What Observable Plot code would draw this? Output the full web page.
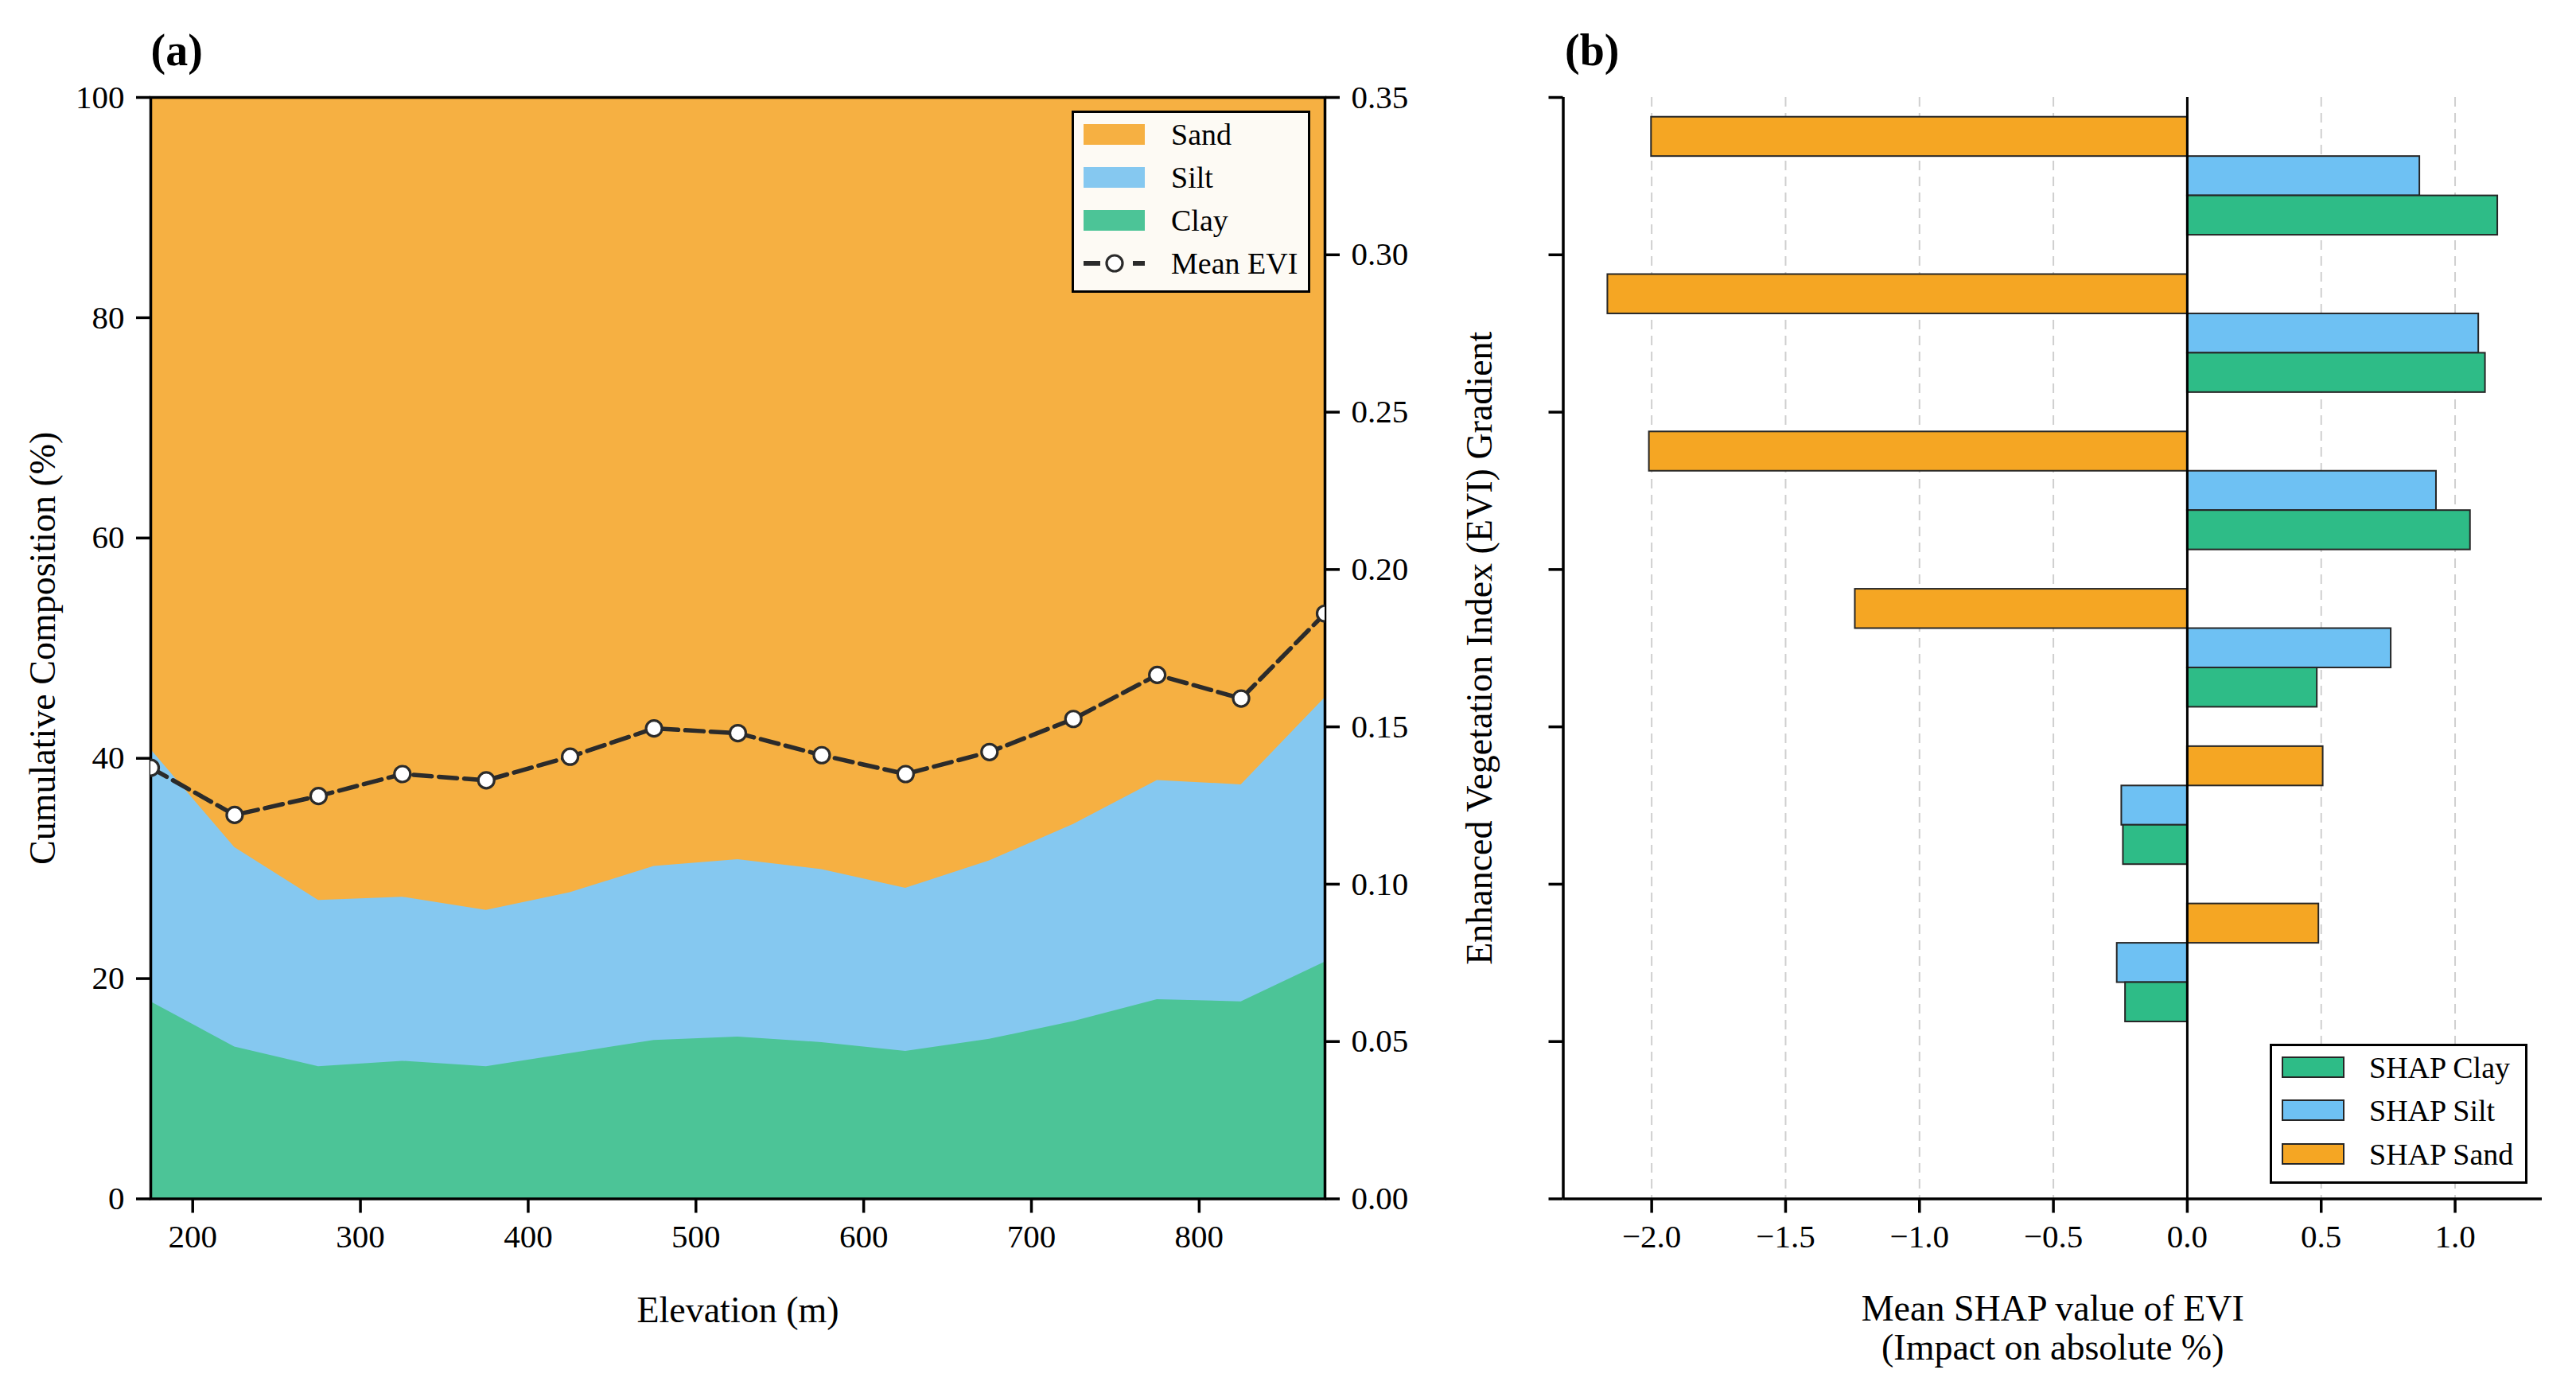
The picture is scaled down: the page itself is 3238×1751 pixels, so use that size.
<!DOCTYPE html>
<html><head><meta charset="utf-8">
<script src="https://cdn.jsdelivr.net/npm/d3@7"></script>
<script src="https://cdn.jsdelivr.net/npm/@observablehq/plot@0.6"></script>
<style>
html,body{margin:0;padding:0;background:#fff;}
#root{position:relative;width:3238px;height:1751px;font-family:"Liberation Serif","Times New Roman",serif;color:#000;overflow:hidden}
.pane{position:absolute;top:0}
.leg{position:absolute;box-sizing:border-box;border:3px solid #000}
.lt{position:absolute;font-size:38px;line-height:38px;white-space:nowrap;font-family:"Liberation Serif","Times New Roman",serif}
.lp{position:absolute;box-sizing:border-box}
</style></head><body><div id="root"></div>
<script>
// ---------- data: panel (a) ----------
const elevation = [175,225,275,325,375,425,475,525,575,625,675,725,775,825,875];
const clay = [17.9,13.8,12.0,12.5,12.0,13.2,14.4,14.7,14.2,13.4,14.5,16.1,18.1,17.9,21.5];
const silt = [22.9,18.1,15.1,14.9,14.2,14.6,15.8,16.1,15.7,14.8,16.2,17.9,19.9,19.7,24.0];
const sand = [59.2,68.1,72.9,72.6,73.8,72.2,69.8,69.2,70.1,71.8,69.3,66.0,62.0,62.4,54.5];
const meanEVI = [0.137,0.122,0.128,0.135,0.133,0.1405,0.1495,0.148,0.141,0.135,0.142,0.1525,0.1665,0.159,0.186];
const elevTicks = [200,300,400,500,600,700,800];
const compTicks = [0,20,40,60,80,100];
const eviTicks = [0,0.05,0.10,0.15,0.20,0.25,0.30,0.35];
// ---------- data: panel (b) ----------
const eviBins = [0.075,0.125,0.175,0.225,0.275,0.325];
const shapClay = [-0.231,-0.239,0.485,1.057,1.113,1.159];
const shapSilt = [-0.262,-0.245,0.761,0.930,1.088,0.868];
const shapSand = [0.491,0.507,-1.240,-2.009,-2.164,-2.001];
const shapTicks = [-2.0,-1.5,-1.0,-0.5,0.0,0.5,1.0];

const FONT = '"Liberation Serif","Times New Roman",serif';
const COL_A = {Sand:"#F6B042", Silt:"#85C8F0", Clay:"#4CC497"};
const COL_B = {Sand:"#F5A623", Silt:"#6EC1F3", Clay:"#2EBC87"};
const INK = "#000";

const root = document.getElementById("root");
function place(el, left, width){
  const d = document.createElement("div");
  d.className = "pane"; d.style.left = left+"px"; d.style.width = width+"px";
  d.appendChild(el); root.appendChild(d); return d;
}

// ---------- panel (a) ----------
const compRows = elevation.map((e,i)=>({elev:e,
  clayTop: clay[i], siltTop: clay[i]+silt[i], sandTop: clay[i]+silt[i]+sand[i]}));
const eviRows = elevation.map((e,i)=>({elev:e, evi: meanEVI[i]}));

const WA = 1790, ML = 189, MR = WA-1665, MT = 122, MB = 1751-1506.5;
const baseStyle = {fontFamily: FONT, fontSize: "41px", color: INK, background: "transparent", overflow: "visible"};

const plotA = Plot.plot({
  width: WA, height: 1751, marginLeft: ML, marginRight: MR, marginTop: MT, marginBottom: MB,
  style: baseStyle,
  x: {domain: [175, 875]}, y: {domain: [0, 100]},
  marks: [
    Plot.areaY(compRows, {x: "elev", y1: 0, y2: "sandTop", fill: COL_A.Sand}),
    Plot.areaY(compRows, {x: "elev", y1: 0, y2: "siltTop", fill: COL_A.Silt}),
    Plot.areaY(compRows, {x: "elev", y1: 0, y2: "clayTop", fill: COL_A.Clay}),
    Plot.frame({stroke: INK, strokeWidth: 3.5}),
    Plot.axisX({ticks: elevTicks, tickSize: 18, tickPadding: 14, strokeWidth: 3.5, label: null, fontSize: 41, tickFormat: d3.format("d")}),
    Plot.axisY({ticks: compTicks, tickSize: 18, tickPadding: 15, strokeWidth: 3.5, label: null, fontSize: 41, tickFormat: d3.format("d")}),
    Plot.text(["Elevation (m)"], {text: d=>d, frameAnchor: "bottom", lineAnchor: "middle", textAnchor: "middle", dy: 140, fontSize: 46}),
    Plot.text(["Cumulative Composition (%)"], {text: d=>d, frameAnchor: "left", lineAnchor: "middle", textAnchor: "middle", rotate: -90, dx: -135, fontSize: 46}),
    Plot.text(["(a)"], {text: d=>d, frameAnchor: "top-left", textAnchor: "start", lineAnchor: "middle", dy: -58, fontSize: 56, fontWeight: "bold"})
  ]
});
place(plotA, 0, WA);

const plotA2 = Plot.plot({
  width: WA, height: 1751, marginLeft: ML, marginRight: MR, marginTop: MT, marginBottom: MB,
  style: baseStyle,
  x: {domain: [175, 875], axis: null}, y: {domain: [0, 0.35]},
  marks: [
    Plot.line(eviRows, {x: "elev", y: "evi", stroke: "#2b2b2b", strokeWidth: 5.5, strokeDasharray: "23,9", clip: true}),
    Plot.dot(eviRows, {x: "elev", y: "evi", r: 10, fill: "#fff", stroke: "#2b2b2b", strokeWidth: 3.2, clip: true}),
    Plot.axisY({anchor: "right", ticks: eviTicks, tickFormat: d3.format(".2f"), tickSize: 18, tickPadding: 15, strokeWidth: 3.5, label: null, fontSize: 41})
  ]
});
place(plotA2, 0, WA);

// ---------- panel (b) ----------
const BAR = 0.0125;
const offsets = {Sand: 1, Silt: 0, Clay: -1};
const barsB = [];
eviBins.forEach((b,i)=>{
  barsB.push({bin: b, comp: "Sand", v: shapSand[i]});
  barsB.push({bin: b, comp: "Silt", v: shapSilt[i]});
  barsB.push({bin: b, comp: "Clay", v: shapClay[i]});
});
const allV = shapClay.concat(shapSilt, shapSand);
const vMin = d3.min(allV), vMax = d3.max(allV), pad = (vMax - vMin)*0.05;
const xDomB = [vMin - pad, vMax + pad];

const LB = 1790, WB = 3238 - LB;
const plotB = Plot.plot({
  width: WB, height: 1751, marginLeft: 1964.5 - LB, marginRight: WB - (3195 - LB), marginTop: MT, marginBottom: MB,
  style: baseStyle,
  x: {domain: xDomB}, y: {domain: [0, 0.35]},
  color: {domain: ["Sand","Silt","Clay"], range: [COL_B.Sand, COL_B.Silt, COL_B.Clay]},
  marks: [
    Plot.ruleX(shapTicks.filter(t => t !== 0), {stroke: "#cfcfcf", strokeWidth: 2, strokeDasharray: "12,8"}),
    Plot.rect(barsB, {x1: 0, x2: "v",
      y1: d => d.bin + offsets[d.comp]*BAR - BAR/2,
      y2: d => d.bin + offsets[d.comp]*BAR + BAR/2,
      fill: "comp", stroke: "#262626", strokeWidth: 2}),
    Plot.ruleX([0], {stroke: INK, strokeWidth: 3}),
    Plot.ruleX([xDomB[0]], {stroke: INK, strokeWidth: 3.5}),
    Plot.ruleY([0], {stroke: INK, strokeWidth: 3.5}),
    Plot.axisX({ticks: shapTicks, tickFormat: d3.format(".1f"), tickSize: 18, tickPadding: 14, strokeWidth: 3.5, label: null, fontSize: 41}),
    Plot.axisY({ticks: eviTicks, tickFormat: () => "", tickSize: 18, tickPadding: 15, strokeWidth: 3.5, label: null}),
    Plot.text(["Mean SHAP value of EVI\n(Impact on absolute %)"], {text: d=>d, frameAnchor: "bottom", lineAnchor: "middle", textAnchor: "middle", dy: 162, fontSize: 46, lineHeight: 1.07}),
    Plot.text(["Enhanced Vegetation Index (EVI) Gradient"], {text: d=>d, frameAnchor: "left", lineAnchor: "middle", textAnchor: "middle", rotate: -90, dx: 1860 - 1964.5, fontSize: 46}),
    Plot.text(["(b)"], {text: d=>d, frameAnchor: "top-left", textAnchor: "start", lineAnchor: "middle", dy: -58, dx: 2, fontSize: 56, fontWeight: "bold"})
  ]
});
place(plotB, LB, WB);

// ---------- legends ----------
function box(x1, y1, x2, y2, bg){
  const d = document.createElement("div");
  d.className = "leg";
  Object.assign(d.style, {left: x1+"px", top: y1+"px", width: (x2-x1)+"px", height: (y2-y1)+"px", background: bg});
  root.appendChild(d);
}
function patch(x, cy, w, h, color, stroke){
  const d = document.createElement("div");
  d.className = "lp";
  Object.assign(d.style, {left: x+"px", top: (cy-h/2)+"px", width: w+"px", height: h+"px", background: color,
    border: stroke ? "2px solid "+stroke : "none"});
  root.appendChild(d);
}
function label(x, cy, txt){
  const d = document.createElement("div");
  d.className = "lt";
  d.textContent = txt;
  Object.assign(d.style, {left: x+"px", top: (cy-19)+"px"});
  root.appendChild(d);
}
// legend (a)
box(1347, 139, 1647, 368, "#fdfaf4");
const legA = [["Sand", COL_A.Sand, 169], ["Silt", COL_A.Silt, 223], ["Clay", COL_A.Clay, 277]];
legA.forEach(([t, c, cy]) => { patch(1362, cy, 77, 26, c); label(1472, cy, t); });
{
  const ns = "http://www.w3.org/2000/svg";
  const s = document.createElementNS(ns, "svg");
  s.setAttribute("width", 90); s.setAttribute("height", 30);
  Object.assign(s.style, {position: "absolute", left: "1356px", top: (331-15)+"px", overflow: "visible"});
  const mk = (tag, attrs) => { const e = document.createElementNS(ns, tag); for (const k in attrs) e.setAttribute(k, attrs[k]); s.appendChild(e); };
  mk("line", {x1: 6, y1: 15, x2: 27, y2: 15, stroke: "#2b2b2b", "stroke-width": 6});
  mk("line", {x1: 68, y1: 15, x2: 83, y2: 15, stroke: "#2b2b2b", "stroke-width": 6});
  mk("circle", {cx: 45, cy: 15, r: 10, fill: "#fff", stroke: "#2b2b2b", "stroke-width": 3.2});
  root.appendChild(s);
  label(1472, 331, "Mean EVI");
}
// legend (b)
box(2853, 1312, 3177, 1488, "#fff");
const legB = [["SHAP Clay", COL_B.Clay, 1341.5], ["SHAP Silt", COL_B.Silt, 1395.5], ["SHAP Sand", COL_B.Sand, 1450.5]];
legB.forEach(([t, c, cy]) => { patch(2868, cy, 79, 27, c, "#262626"); label(2978, cy, t); });
</script></body></html>
